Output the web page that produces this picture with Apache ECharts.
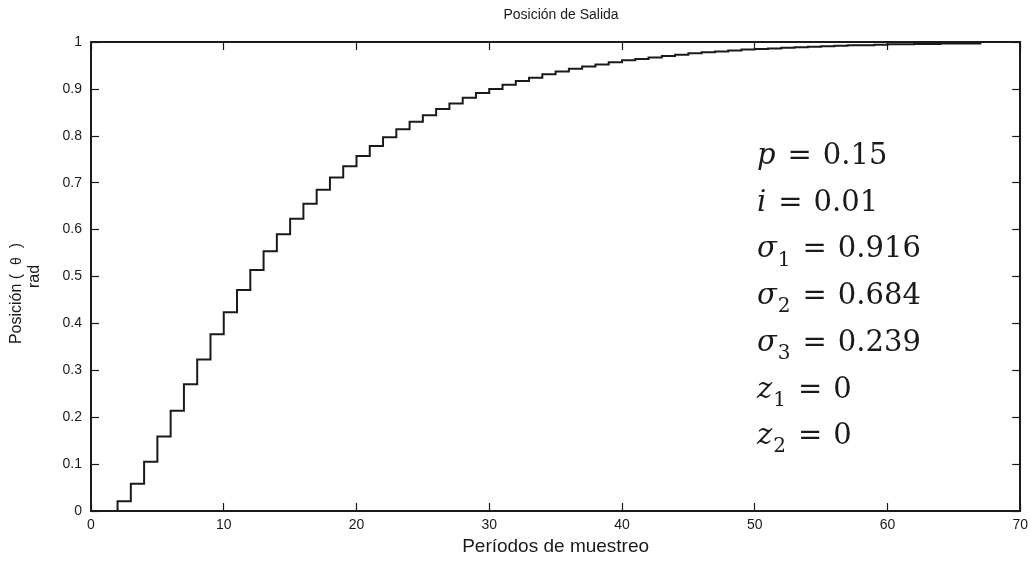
<!DOCTYPE html>
<html>
<head>
<meta charset="utf-8">
<script src="https://cdn.jsdelivr.net/npm/echarts@6/dist/echarts.min.js"></script>
<style>
  html, body { margin: 0; padding: 0; background: #fff; }
  #chart { width: 1031px; height: 561px; }
</style>
</head>
<body>
<div id="chart"></div>
<script>
// Sample index (sampling periods) and output position in rad
const periods = [
  0, 1, 2, 3, 4, 5, 6, 7, 8, 9,
  10, 11, 12, 13, 14, 15, 16, 17, 18, 19,
  20, 21, 22, 23, 24, 25, 26, 27, 28, 29,
  30, 31, 32, 33, 34, 35, 36, 37, 38, 39,
  40, 41, 42, 43, 44, 45, 46, 47, 48, 49,
  50, 51, 52, 53, 54, 55, 56, 57, 58, 59,
  60, 61, 62, 63, 64, 65, 66, 67
];
const position = [
  0, 0, 0.021, 0.058, 0.105, 0.159, 0.214, 0.270, 0.323, 0.377,
  0.424, 0.471, 0.514, 0.554, 0.590, 0.623, 0.655, 0.685, 0.711, 0.735,
  0.757, 0.778, 0.797, 0.814, 0.830, 0.844, 0.857, 0.869, 0.881, 0.891,
  0.900, 0.909, 0.917, 0.924, 0.931, 0.937, 0.943, 0.948, 0.952, 0.957,
  0.961, 0.964, 0.967, 0.970, 0.973, 0.976, 0.978, 0.980, 0.982, 0.984,
  0.985, 0.986, 0.988, 0.989, 0.990, 0.991, 0.992, 0.993, 0.993, 0.994,
  0.995, 0.995, 0.996, 0.996, 0.997, 0.997, 0.997, 0.998
];

// Controller parameters listed inside the plot
const paramSymbols = ['p', 'i', 'σ', 'σ', 'σ', 'z', 'z'];
const paramSubscripts = ['', '', '1', '2', '3', '1', '2'];
const paramValues = ['0.15', '0.01', '0.916', '0.684', '0.239', '0', '0'];

const xTicks = { min: 0, max: 70, interval: 10 };
const yTicks = { min: 0, max: 1, interval: 0.1 };

const ink = '#1a1a1a';
const sans = 'Liberation Sans, Arial, sans-serif';
const labelFont = { fontFamily: sans, fontSize: 14, color: ink };

const chart = echarts.init(document.getElementById('chart'), null, { renderer: 'canvas' });

const grid = { left: 91, right: 9, top: 42, bottom: 47 };

function frameAxis(extra) {
  return Object.assign({
    type: 'value',
    axisLine: { show: true, onZero: false, lineStyle: { color: ink, width: 2 } },
    axisTick: { show: true, inside: true, length: 8, lineStyle: { color: ink, width: 1.2 } },
    splitLine: { show: false }
  }, extra);
}

// Parameter block: italic symbol, lowered subscript, upright value
const mathFont = 'DejaVu Serif, Liberation Serif, serif';
const paramGraphics = paramSymbols.map((sym, idx) => ({
  type: 'text',
  left: 757,
  top: 142 + idx * 46.7,
  style: {
    text: '{v|' + sym + '}' + (paramSubscripts[idx] ? '{s|' + paramSubscripts[idx] + '}' : '') +
          '{e|=}{n|' + paramValues[idx] + '}',
    rich: {
      v: { fontFamily: mathFont, fontStyle: 'italic', fontSize: 29, fill: ink, verticalAlign: 'top', lineHeight: 36 },
      s: { fontFamily: mathFont, fontSize: 20, fill: ink, verticalAlign: 'top', lineHeight: 24, padding: [15, 0, 0, 1] },
      e: { fontFamily: mathFont, fontSize: 29, fill: ink, verticalAlign: 'top', lineHeight: 36, padding: [0, 11, 0, 12] },
      n: { fontFamily: mathFont, fontSize: 29, fill: ink, verticalAlign: 'top', lineHeight: 36 }
    }
  },
  z: 10
}));

// Zero-order-hold staircase through the axis scales
function renderStairs(params, api) {
  if (params.dataIndex !== 0) return null;
  const pts = [];
  for (let k = 0; k < periods.length; k++) {
    if (k > 0) pts.push(api.coord([periods[k], position[k - 1]]));
    pts.push(api.coord([periods[k], position[k]]));
  }
  return {
    type: 'polyline',
    shape: { points: pts },
    style: { stroke: ink, lineWidth: 2, fill: null, lineJoin: 'miter' },
    silent: true
  };
}

chart.setOption({
  animation: false,
  backgroundColor: '#fff',
  title: {
    text: 'Posición de Salida',
    left: 556,
    top: 3,
    textAlign: 'center',
    textStyle: { fontFamily: sans, fontSize: 14, fontWeight: 'normal', color: ink }
  },
  grid: grid,
  xAxis: [
    frameAxis({
      position: 'bottom',
      min: xTicks.min, max: xTicks.max, interval: xTicks.interval,
      name: 'Períodos de muestreo',
      nameLocation: 'middle',
      nameGap: 26,
      nameTextStyle: { fontFamily: sans, fontSize: 19, color: ink },
      axisLabel: Object.assign({ margin: 7 }, labelFont)
    }),
    frameAxis({
      position: 'top',
      min: xTicks.min, max: xTicks.max, interval: xTicks.interval,
      axisLabel: { show: false }
    })
  ],
  yAxis: [
    frameAxis({
      position: 'left',
      min: yTicks.min, max: yTicks.max, interval: yTicks.interval,
      name: '{a|Posición (  }{t|θ}{a|  )}{gap|}\n{a|rad}',
      nameLocation: 'middle',
      nameRotate: 90,
      nameGap: 47,
      nameTextStyle: {
        fontFamily: sans, fontSize: 16, color: ink, lineHeight: 18,
        rich: {
          a: { fontFamily: sans, fontSize: 16, color: ink, lineHeight: 18 },
          t: { fontFamily: sans, fontSize: 14, color: ink, lineHeight: 18 },
          gap: { width: 34, lineHeight: 18 }
        }
      },
      axisLabel: Object.assign({
        margin: 9,
        formatter: v => String(+v.toFixed(1))
      }, labelFont)
    }),
    frameAxis({
      position: 'right',
      min: yTicks.min, max: yTicks.max, interval: yTicks.interval,
      axisLabel: { show: false }
    })
  ],
  series: [{
    type: 'custom',
    xAxisIndex: 0,
    yAxisIndex: 0,
    clip: true,
    renderItem: renderStairs,
    data: periods.map((k, idx) => [k, position[idx]])
  }],
  graphic: paramGraphics
});
</script>
</body>
</html>
